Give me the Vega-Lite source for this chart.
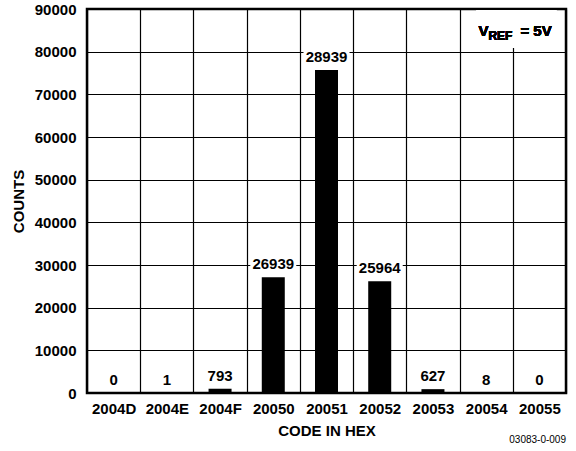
{
  "$schema": "https://vega.github.io/schema/vega-lite/v6.json",
  "width": 479,
  "height": 384,
  "autosize": {"type": "none"},
  "padding": {"left": 87, "top": 9, "right": 10, "bottom": 58},
  "background": "white",
  "config": {
    "font": "Liberation Sans",
    "view": {"stroke": "black", "strokeWidth": 2.5},
    "axis": {
      "labelFont": "Liberation Sans",
      "labelFontSize": 15,
      "labelFontWeight": "bold",
      "labelColor": "black",
      "titleFont": "Liberation Sans",
      "titleFontSize": 15,
      "titleFontWeight": "bold",
      "titleColor": "black",
      "ticks": false,
      "domain": false,
      "grid": true,
      "gridColor": "black",
      "gridOpacity": 1,
      "gridWidth": 1.2
    }
  },
  "title": {
    "text": "03083-0-009",
    "orient": "bottom",
    "anchor": "end",
    "fontSize": 10,
    "fontWeight": "normal",
    "color": "black",
    "offset": -3
  },
  "data": {
    "values": [
      {"code": "2004D", "count": 0, "label": "0"},
      {"code": "2004E", "count": 0, "label": "1"},
      {"code": "2004F", "count": 1000, "label": "793"},
      {"code": "20050", "count": 27100, "label": "26939"},
      {"code": "20051", "count": 75700, "label": "28939"},
      {"code": "20052", "count": 26200, "label": "25964"},
      {"code": "20053", "count": 900, "label": "627"},
      {"code": "20054", "count": 0, "label": "8"},
      {"code": "20055", "count": 0, "label": "0"}
    ]
  },
  "encoding": {
    "x": {
      "field": "code",
      "type": "ordinal",
      "sort": null,
      "scale": {"paddingInner": 0, "paddingOuter": 0},
      "axis": {
        "labelAngle": 0,
        "labelPadding": 8,
        "tickBand": "extent",
        "title": "CODE IN HEX",
        "titlePadding": 7
      }
    }
  },
  "layer": [
    {
      "mark": {"type": "bar", "color": "black", "size": 23},
      "encoding": {
        "y": {
          "field": "count",
          "type": "quantitative",
          "scale": {"domain": [0, 90000], "nice": false},
          "axis": {
            "values": [0, 10000, 20000, 30000, 40000, 50000, 60000, 70000, 80000, 90000],
            "format": "d",
            "labelPadding": 11,
            "title": "COUNTS",
            "titlePadding": 8
          }
        }
      }
    },
    {
      "mark": {"type": "tick", "color": "white", "opacity": 1, "size": 46, "thickness": 14, "yOffset": -12, "orient": "horizontal"},
      "encoding": {
        "y": {"field": "count", "type": "quantitative"}
      }
    },
    {
      "mark": {"type": "text", "baseline": "bottom", "dy": -5, "fontSize": 15, "fontWeight": "bold", "color": "black"},
      "encoding": {
        "y": {"field": "count", "type": "quantitative"},
        "text": {"field": "label"}
      }
    },
    {
      "mark": {"type": "tick", "color": "white", "opacity": 1, "size": 80, "thickness": 37, "xOffset": -23, "orient": "horizontal"},
      "encoding": {
        "x": {"datum": "20055"},
        "y": {"datum": 85300}
      }
    },
    {
      "mark": {"type": "text", "align": "left", "baseline": "alphabetic", "dx": -61, "fontSize": 15, "fontWeight": "bold", "color": "black"},
      "encoding": {
        "x": {"datum": "20055"},
        "y": {"datum": 83700},
        "text": {"value": "V"}
      }
    },
    {
      "mark": {"type": "text", "align": "left", "baseline": "alphabetic", "dx": -51, "dy": 4, "fontSize": 12, "fontWeight": "bold", "color": "black"},
      "encoding": {
        "x": {"datum": "20055"},
        "y": {"datum": 83700},
        "text": {"value": "REF"}
      }
    },
    {
      "mark": {"type": "text", "align": "left", "baseline": "alphabetic", "dx": -19, "fontSize": 15, "fontWeight": "bold", "color": "black"},
      "encoding": {
        "x": {"datum": "20055"},
        "y": {"datum": 83700},
        "text": {"value": "= 5V"}
      }
    }
  ]
}
